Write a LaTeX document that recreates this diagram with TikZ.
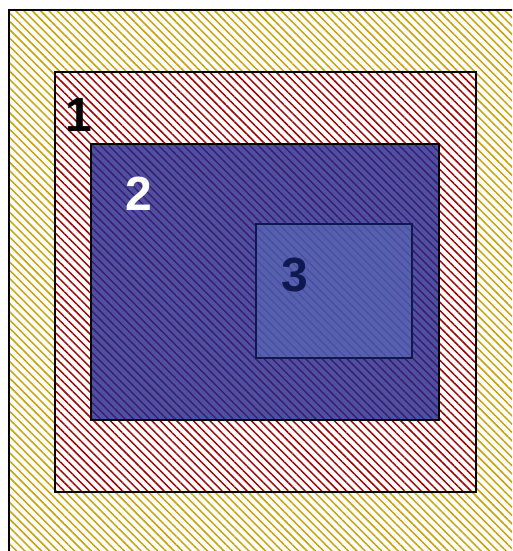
\documentclass[tikz,border=0pt]{standalone}
\usepackage{fontspec}
\setmainfont{Liberation Sans}
\usetikzlibrary{patterns.meta}
\definecolor{hatchgold}{HTML}{C8A000}
\definecolor{hatchred}{HTML}{A00000}
\definecolor{zoneblue}{HTML}{5050A2}
\definecolor{hatchpurple}{HTML}{3A1E6C}
\definecolor{innerblue}{HTML}{5860AE}
\definecolor{hatchblue}{HTML}{4650A4}
\definecolor{navy}{HTML}{101850}
\tikzset{
hatch/.style={pattern={Lines[angle=-45,distance=4.4pt,line width=1.1pt]},pattern color=#1},
zone/.style={draw,line width=1.5pt},
label/.style={font=\bfseries\fontsize{36}{36}\selectfont,inner sep=0pt}
}
\begin{document}
\begin{tikzpicture}[x=0.75pt,y=-0.75pt]
\clip (0,0) rectangle (512,551);
% outer zone
\path[hatch=hatchgold] (9,10) rectangle (530,570);
\draw[line width=1.1pt] (9,570)--(9,10)--(530,10);
% zone 1
\path[fill=white] (55,72) rectangle (476,492);
\path[hatch=hatchred] (55,72) rectangle (476,492);
\draw[zone] (55,72) rectangle (476,492);
% zone 2
\path[fill=zoneblue] (91,144) rectangle (439,420);
\path[hatch=hatchpurple] (91,144) rectangle (439,420);
\draw[zone] (91,144) rectangle (439,420);
% zone 3
\path[fill=innerblue] (256,224) rectangle (412,358);
\path[hatch=hatchblue] (256,224) rectangle (412,358);
\draw[line width=1.1pt,navy] (256,224) rectangle (412,358);
\node[label,black] (one) at (79,115) {1};
\node[label,white] (two) at (139,194) {2};
\node[label,navy] (three) at (295,275) {3};
\end{tikzpicture}
\end{document}
